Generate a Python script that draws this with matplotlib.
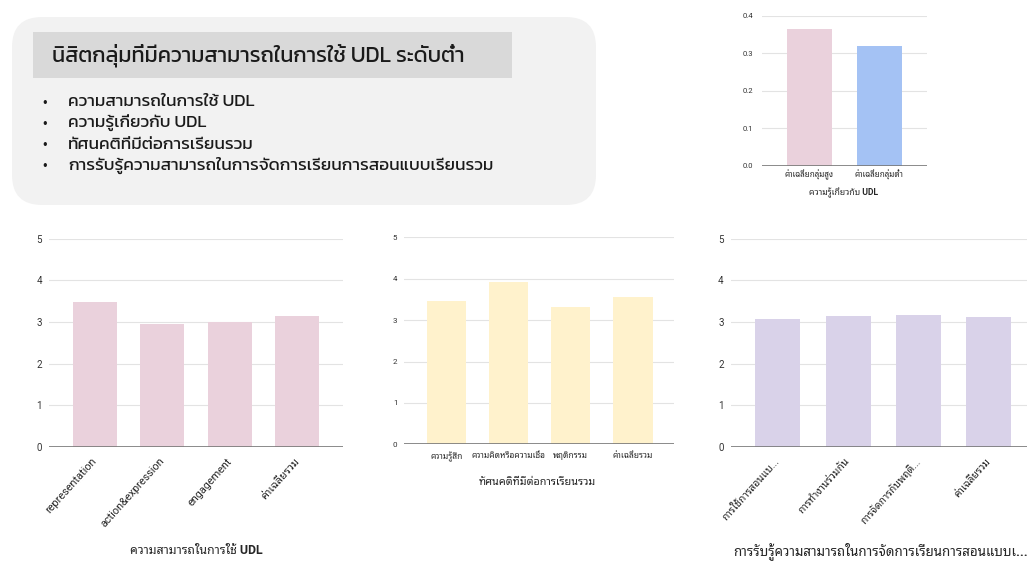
import matplotlib
matplotlib.use("Agg")
import matplotlib.pyplot as plt
from matplotlib.patches import FancyBboxPatch, Rectangle
import numpy as np

W, H = 1027, 561

# ---- slide text ----
title = "นิสิตกลุ่มที่มีความสามารถในการใช้ UDL ระดับต่ำ"
bullets = [
    "ความสามารถในการใช้ UDL",
    "ความรู้เกี่ยวกับ UDL",
    "ทัศนคติที่มีต่อการเรียนรวม",
    "การรับรู้ความสามารถในการจัดการเรียนการสอนแบบเรียนรวม",
]

# ---- chart data ----
know_cats = ["ค่าเฉลี่ยกลุ่มสูง", "ค่าเฉลี่ยกลุ่มต่ำ"]
know_vals = [0.364, 0.318]
know_title = "ความรู้เกี่ยวกับ UDL"

udl_cats = ["representation", "action&expression", "engagement", "ค่าเฉลี่ยรวม"]
udl_vals = [3.49, 2.96, 3.00, 3.15]
udl_title = "ความสามารถในการใช้ UDL"

att_cats = ["ความรู้สึก", "ความคิดหรือความเชื่อ", "พฤติกรรม", "ค่าเฉลี่ยรวม"]
att_vals = [3.47, 3.91, 3.31, 3.55]
att_title = "ทัศนคติที่มีต่อการเรียนรวม"

eff_cats = ["การใช้การสอนแบ...", "การทำงานร่วมกัน", "การจัดการกับพฤติ...", "ค่าเฉลี่ยรวม"]
eff_vals = [3.07, 3.13, 3.16, 3.11]
eff_title = "การรับรู้ความสามารถในการจัดการเรียนการสอนแบบเ..."

SLIDE_FONT = ["Kanit", "DejaVu Sans"]
CHART_FONT = ["Roboto", "Noto Sans Thai Looped", "DejaVu Sans"]
INK = "#262626"

fig = plt.figure(figsize=(W / 100, H / 100), dpi=100)
fig.patch.set_facecolor("white")

# full-figure axes in pixel units for the slide decorations
bg = fig.add_axes([0, 0, 1, 1])
bg.set_xlim(0, W)
bg.set_ylim(H, 0)
bg.axis("off")

bg.add_patch(FancyBboxPatch((12, 17), 584, 188,
                            boxstyle="round,pad=0,rounding_size=30",
                            facecolor="#f2f2f2", edgecolor="none"))
bg.add_patch(Rectangle((33, 32), 479, 46, facecolor="#d9d9d9", edgecolor="none"))
bg.text(52, 55, title, family=SLIDE_FONT, fontweight="normal", fontsize=15.6,
        color="#1a1a1a", va="center", ha="left")
for i, b in enumerate(bullets):
    y = 102 + i * 21.3
    bg.text(45, y, "•", family=SLIDE_FONT, fontsize=10, color="#1a1a1a",
            va="center", ha="center")
    bg.text(68, y, b, family=SLIDE_FONT, fontweight="normal", fontsize=12.4,
            color="#1a1a1a", va="center", ha="left")


def px_axes(x0, x1, y_top, y_bot):
    return fig.add_axes([x0 / W, 1 - y_bot / H, (x1 - x0) / W, (y_bot - y_top) / H])


def style(ax, ymax, step, fmt, tick_fs, pad):
    ax.set_ylim(0, ymax)
    ticks = np.arange(0, ymax + step / 2, step)
    ax.set_yticks(ticks)
    ax.set_yticklabels([fmt.format(t) for t in ticks], family=CHART_FONT,
                       fontsize=tick_fs, color="#333333")
    ax.tick_params(axis="y", length=0, pad=pad)
    ax.tick_params(axis="x", length=0)
    for s in ax.spines.values():
        s.set_visible(False)
    ax.set_axisbelow(True)
    ax.grid(axis="y", color="#e3e3e3", linewidth=0.8)
    ax.axhline(0, color="#777777", linewidth=1.2, zorder=3)
    ax.set_facecolor("none")


# knowledge chart (top right)
ax0 = px_axes(761.7, 926.7, 15.7, 165.7)
x = np.arange(len(know_cats))
ax0.bar(x, know_vals, width=0.64, color=["#ead1dc", "#a4c2f4"])
ax0.set_xlim(-0.68, 1.68)
style(ax0, 0.4, 0.1, "{:.1f}", 5.5, 6)
ax0.set_xticks(x)
ax0.set_xticklabels(know_cats, family=CHART_FONT, fontsize=5.8, color=INK)
ax0.tick_params(axis="x", pad=3)
bg.text(844, 193, know_title, family=CHART_FONT, fontsize=6.2, color=INK,
        ha="center", va="center", fontweight="bold")

# UDL ability chart
ax1 = px_axes(49, 343, 238.7, 446.7)
x = np.arange(len(udl_cats))
ax1.bar(x, udl_vals, width=0.65, color="#ead1dc")
ax1.set_xlim(-0.675, 3.675)
style(ax1, 5, 1, "{:.0f}", 7, 5)
ax1.set_xticks(x)
ax1.set_xticklabels(udl_cats, family=CHART_FONT, fontsize=7.8, color=INK,
                    rotation=48, ha="right", va="center", rotation_mode="anchor")
ax1.tick_params(axis="x", pad=9)
bg.text(196, 551, udl_title, family=CHART_FONT, fontsize=8.8, color=INK,
        ha="center", va="center", fontweight="bold")

# attitude chart
ax2 = px_axes(404.3, 674.3, 237.3, 444.3)
x = np.arange(len(att_cats))
ax2.bar(x, att_vals, width=0.635, color="#fff2cc")
ax2.set_xlim(-0.675, 3.665)
style(ax2, 5, 1, "{:.0f}", 5.8, 5)
ax2.set_xticks(x)
ax2.set_xticklabels(att_cats, family=CHART_FONT, fontsize=6.0, color=INK)
ax2.tick_params(axis="x", pad=5)
bg.text(537, 482, att_title, family=CHART_FONT, fontsize=7.8, color=INK,
        ha="center", va="center", fontweight="bold")

# self-efficacy chart (runs off the right edge)
ax3 = px_axes(730.7, 1036, 238.7, 446.7)
x = np.arange(len(eff_cats))
ax3.bar(x, eff_vals, width=0.64, color="#d9d2e9")
ax3.set_xlim(-0.67, 3.67)
style(ax3, 5, 1, "{:.0f}", 7, 5)
ax3.set_xticks(x)
ax3.set_xticklabels(eff_cats, family=CHART_FONT, fontsize=7.4, color=INK,
                    rotation=48, ha="right", va="center", rotation_mode="anchor")
ax3.tick_params(axis="x", pad=9)
bg.text(733, 551, eff_title, family=CHART_FONT, fontsize=9.6, color=INK,
        ha="left", va="center", fontweight="bold")

fig.savefig("out.png", dpi=100)
